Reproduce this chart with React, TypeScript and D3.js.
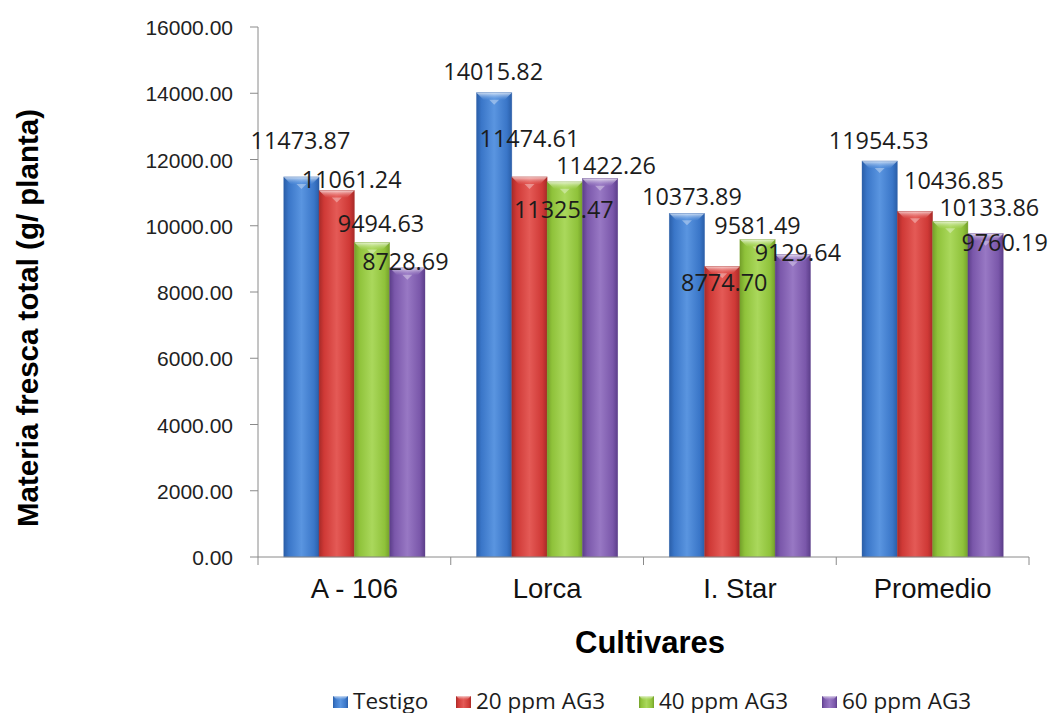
import React from "react";
import * as d3 from "d3";

// Cultivars and treatments
const categories = ["A - 106", "Lorca", "I. Star", "Promedio"];
const seriesNames = ["Testigo", "20 ppm AG3", "40 ppm AG3", "60 ppm AG3"];

// Fresh matter per plant (g), one array per treatment, in cultivar order
const testigo = [11473.87, 14015.82, 10373.89, 11954.53];
const ppm20 = [11061.24, 11474.61, 8774.7, 10436.85];
const ppm40 = [9494.63, 11325.47, 9581.49, 10133.86];
const ppm60 = [8728.69, 11422.26, 9129.64, 9760.19];
const seriesValues = [testigo, ppm20, ppm40, ppm60];

const yTicks = [0, 2000, 4000, 6000, 8000, 10000, 12000, 14000, 16000];

// Hand-placed nudges for the value labels [dx, dy] relative to bar top centre
const labelNudge: [number, number][][] = [
  [[-1, -28], [-1, -13], [5, -8], [-1, -12]],
  [[15, -3], [0, -30], [2, 25], [39, -22]],
  [[9, -10], [-1, 36], [0, -6], [39, -5]],
  [[-2, 2], [6, -5], [5, 6], [19, 17]],
];

// Bar palette: [edge, base, highlight]
const palette = [
  ["#2a5ea8", "#3a76c8", "#5a95e0"],
  ["#a82a28", "#cf3936", "#e45a56"],
  ["#74a02a", "#8fc23a", "#aad85c"],
  ["#5c3e8a", "#7a57aa", "#9878c4"],
];

const W = 1050;
const H = 713;
const plot = { left: 258, right: 1029, top: 27, bottom: 557 };
const axisColor = "#8a8a8a";

export default function App() {
  const x = d3
    .scaleBand<string>()
    .domain(categories)
    .range([plot.left, plot.right])
    .paddingInner(0)
    .paddingOuter(0);
  const xs = d3
    .scaleBand<number>()
    .domain(d3.range(seriesNames.length))
    .range([0, x.bandwidth()])
    .paddingInner(0)
    .paddingOuter(0.73);
  const y = d3.scaleLinear().domain([0, 16000]).range([plot.bottom, plot.top]);
  const bw = xs.bandwidth();
  const bevel = 7;

  const legendX = [332, 455, 638, 821];

  return (
    <svg
      width={W}
      height={H}
      style={{ position: "absolute", left: 0, top: 0, background: "#fff" }}
    >
      <defs>
        {palette.map((c, i) => (
          <linearGradient key={i} id={`bar${i}`} x1="0" x2="1" y1="0" y2="0">
            <stop offset="0%" stopColor={c[0]} />
            <stop offset="14%" stopColor={c[1]} />
            <stop offset="50%" stopColor={c[2]} />
            <stop offset="86%" stopColor={c[1]} />
            <stop offset="100%" stopColor={c[0]} />
          </linearGradient>
        ))}
        {palette.map((c, i) => (
          <linearGradient key={i} id={`cap${i}`} x1="0" x2="0" y1="0" y2="1">
            <stop offset="0%" stopColor="#ffffff" stopOpacity={0.75} />
            <stop offset="100%" stopColor={c[2]} stopOpacity={0.2} />
          </linearGradient>
        ))}
      </defs>

      {/* bars */}
      {seriesValues.map((vals, s) =>
        vals.map((v, ci) => {
          const x0 = (x(categories[ci]) as number) + (xs(s) as number);
          const top = y(v);
          const h = plot.bottom - top;
          return (
            <g key={`${s}-${ci}`}>
              <rect x={x0} y={top} width={bw} height={h} fill={`url(#bar${s})`} />
              <polygon
                points={`${x0},${top} ${x0 + bw},${top} ${x0 + bw - bevel},${top + bevel} ${x0 + bevel},${top + bevel}`}
                fill={`url(#cap${s})`}
              />
              <polygon
                points={`${x0 + bw / 2 - 5},${top + bevel} ${x0 + bw / 2 + 5},${top + bevel} ${x0 + bw / 2},${top + bevel + 5}`}
                fill="#ffffff"
                opacity={0.35}
              />
              <rect x={x0} y={top} width={bw} height={h} fill="none" stroke={palette[s][0]} strokeWidth={0.6} strokeOpacity={0.6} />
            </g>
          );
        })
      )}

      {/* y axis */}
      <line x1={plot.left} x2={plot.left} y1={plot.top} y2={plot.bottom} stroke={axisColor} />
      {yTicks.map((t) => (
        <g key={t}>
          <line x1={plot.left - 8} x2={plot.left} y1={y(t)} y2={y(t)} stroke={axisColor} />
          <text
            x={233}
            y={y(t) + 8}
            textAnchor="end"
            fontFamily="'Liberation Sans', Arial, sans-serif"
            fontSize={21}
            fill="#222"
          >
            {t.toFixed(2)}
          </text>
        </g>
      ))}

      {/* x axis */}
      <line x1={plot.left} x2={plot.right} y1={plot.bottom} y2={plot.bottom} stroke={axisColor} />
      {categories.map((c, i) => (
        <line
          key={`t${i}`}
          x1={(x(c) as number) + x.bandwidth()}
          x2={(x(c) as number) + x.bandwidth()}
          y1={plot.bottom}
          y2={plot.bottom + 8}
          stroke={axisColor}
        />
      ))}
      <line x1={plot.left} x2={plot.left} y1={plot.bottom} y2={plot.bottom + 8} stroke={axisColor} />
      {categories.map((c) => (
        <text
          key={c}
          x={(x(c) as number) + x.bandwidth() / 2}
          y={598}
          textAnchor="middle"
          fontFamily="'Liberation Sans', Arial, sans-serif"
          fontSize={27.5}
          fill="#111"
        >
          {c}
        </text>
      ))}

      {/* value labels */}
      {seriesValues.map((vals, s) =>
        vals.map((v, ci) => {
          const cx = (x(categories[ci]) as number) + (xs(s) as number) + bw / 2;
          const [dx, dy] = labelNudge[s][ci];
          return (
            <text
              key={`l${s}-${ci}`}
              x={cx + dx}
              y={y(v) + dy}
              textAnchor="middle"
              fontFamily="'Open Sans', sans-serif"
              fontSize={23.4}
              fill="#1c1c1c"
            >
              {v.toFixed(2)}
            </text>
          );
        })
      )}

      {/* axis titles */}
      <text
        transform={`translate(38, 318) rotate(-90)`}
        textAnchor="middle"
        fontFamily="'Liberation Sans', Arial, sans-serif"
        fontWeight="bold"
        fontSize={29.5}
        fill="#000"
      >
        Materia fresca total (g/ planta)
      </text>
      <text
        x={650}
        y={653}
        textAnchor="middle"
        fontFamily="'Liberation Sans', Arial, sans-serif"
        fontWeight="bold"
        fontSize={31}
        fill="#000"
      >
        Cultivares
      </text>

      {/* legend */}
      {seriesNames.map((n, i) => (
        <g key={n} transform={`translate(${legendX[i]}, 696)`}>
          <rect x={1} y={0} width={15} height={12} fill={`url(#bar${i})`} />
          <polygon points="1,0 16,0 12,4 5,4" fill={`url(#cap${i})`} />
          <text
            x={21}
            y={12.5}
            fontFamily="'Open Sans', sans-serif"
            fontSize={22.5}
            fill="#1c1c1c"
          >
            {n}
          </text>
        </g>
      ))}
    </svg>
  );
}
